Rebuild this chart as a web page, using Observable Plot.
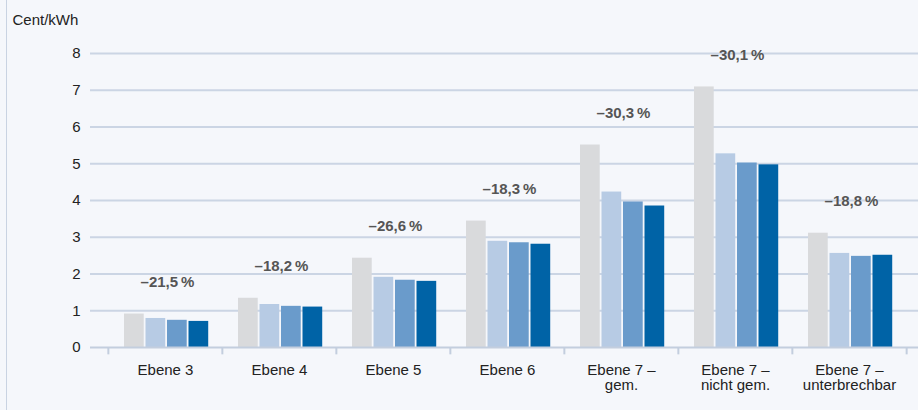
<!DOCTYPE html>
<html><head><meta charset="utf-8">
<script src="https://cdn.jsdelivr.net/npm/d3@7"></script>
<script src="https://cdn.jsdelivr.net/npm/@observablehq/plot@0.6"></script>
<style>
html,body{margin:0;padding:0;background:#f5f7fb;}
#wrap{position:relative;width:918px;height:410px;overflow:hidden;}
#wrap::before{content:"";position:absolute;left:6px;top:0;bottom:0;width:1px;background:#c9d3e2;}
#wrap svg{display:block;}
</style></head>
<body><div id="wrap"></div>
<script>
const categories = ["Ebene 3", "Ebene 4", "Ebene 5", "Ebene 6", "Ebene 7 –\ngem.", "Ebene 7 –\nnicht gem.", "Ebene 7 –\nunterbrechbar"];
const seriesNames = ["A", "B", "C", "D"];
const seriesA = [0.91, 1.34, 2.43, 3.44, 5.51, 7.09, 3.11];
const seriesB = [0.79, 1.17, 1.91, 2.89, 4.23, 5.27, 2.56];
const seriesC = [0.74, 1.12, 1.83, 2.85, 3.96, 5.02, 2.48];
const seriesD = [0.71, 1.10, 1.80, 2.81, 3.85, 4.97, 2.51];
const changeLabels = ["–21,5\u202F%", "–18,2\u202F%", "–26,6\u202F%", "–18,3\u202F%", "–30,3\u202F%", "–30,1\u202F%", "–18,8\u202F%"];
const yTicks = [0, 1, 2, 3, 4, 5, 6, 7, 8];
const unitLabel = "Cent/kWh";

const allSeries = [seriesA, seriesB, seriesC, seriesD];
const colors = ["#d9dadc", "#b7cbe4", "#6a9bcb", "#0063a6"];
const bandW = 800 / 7;
const barW = 20;
const lefts = [16, 37.5, 59, 80.5];

const bars = allSeries.map((vals, j) =>
  Plot.barY(categories.map((c, i) => ({cat: c, value: vals[i]})), {
    x: "cat", y: "value", fill: colors[j],
    insetLeft: lefts[j], insetRight: bandW - lefts[j] - barW
  })
);

const labelData = categories.map((c, i) => ({cat: c, value: seriesA[i], text: changeLabels[i]}));

const chart = Plot.plot({
  width: 918, height: 410,
  marginLeft: 90, marginRight: 0, marginTop: 53, marginBottom: 63,
  style: {background: "transparent", fontFamily: "'Liberation Sans', Arial, sans-serif", fontSize: "15px", color: "#222"},
  x: {domain: categories, range: [107, 907], padding: 0, tickSize: 0, tickPadding: 17, label: null},
  y: {domain: [0, 8], ticks: yTicks, tickSize: 0, tickPadding: 10, label: null, tickFormat: d => String(d)},
  marks: [
    Plot.ruleY(yTicks.slice(1), {stroke: "#cbd5e4", strokeWidth: 2}),
    ...bars,
    Plot.ruleY([0], {stroke: "#c3cede", strokeWidth: 2}),
    Plot.ruleX(categories, {x: d => d, dx: -bandW / 2, y1: 0, y2: -0.2, stroke: "#c3cede", strokeWidth: 2}),
    Plot.ruleX(categories.slice(-1), {x: d => d, dx: bandW / 2, y1: 0, y2: -0.2, stroke: "#c3cede", strokeWidth: 2}),
    Plot.text(labelData, {x: "cat", y: "value", text: "text", dy: -27, dx: 2, lineAnchor: "bottom", fill: "#555", fontWeight: 600, fontSize: 15}),
    Plot.text([unitLabel], {frameAnchor: "top-left", text: d => d, dx: -78, dy: -39, textAnchor: "start", lineAnchor: "top", fill: "#222", fontSize: 15})
  ]
});
document.getElementById("wrap").appendChild(chart);
</script>
</body></html>
